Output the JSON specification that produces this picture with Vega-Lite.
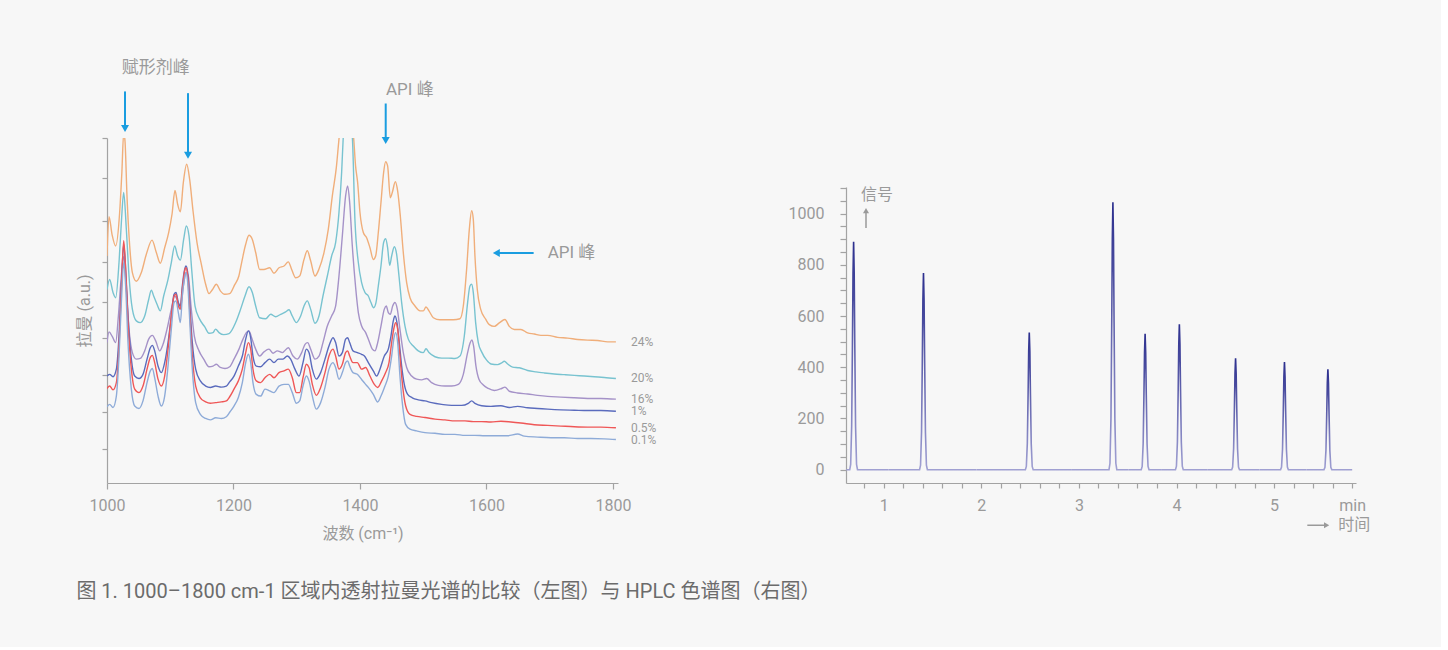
{
  "$schema": "https://vega.github.io/schema/vega-lite/v6.json",
  "background": "#f7f7f7",
  "padding": {"left": 76, "top": 58, "right": 70, "bottom": 45},
  "bounds": "flush",
  "spacing": 228,
  "title": {"text": "图 1. 1000–1800 cm-1 区域内透射拉曼光谱的比较（左图）与 HPLC 色谱图（右图）", "orient": "bottom", "anchor": "start", "offset": 41, "fontSize": 20, "fontWeight": "normal", "color": "#6b6b6b", "font": "Roboto, 'Noto Sans CJK SC', sans-serif"},
  "config": {
    "view": {"stroke": null},
    "axis": {"grid": false, "domainColor": "#a3a3a3", "tickColor": "#a3a3a3", "labelColor": "#9a9a9a", "titleColor": "#9a9a9a", "labelFont": "Roboto", "labelFontSize": 16, "titleFont": "Roboto, 'Noto Sans CJK SC', sans-serif", "titleFontSize": 16, "titleFontWeight": "normal", "domainWidth": 1.2, "tickWidth": 1.2},
    "text": {"font": "Roboto, 'Noto Sans CJK SC', sans-serif", "color": "#9a9a9a"}
  },
  "datasets": {
    "raman": [
      {"s":"24%","x":1000,"y":65.8},{"s":"24%","x":1003.2,"y":77.2},{"s":"24%","x":1008,"y":72},{"s":"24%","x":1013.7,"y":68.7},{"s":"24%","x":1020,"y":78.4},{"s":"24%","x":1023.5,"y":90},{"s":"24%","x":1026.4,"y":101.5},{"s":"24%","x":1028.5,"y":99},{"s":"24%","x":1031.6,"y":83.2},{"s":"24%","x":1035.9,"y":68.7},{"s":"24%","x":1040.1,"y":61},{"s":"24%","x":1046.4,"y":58.5},{"s":"24%","x":1054.3,"y":61},{"s":"24%","x":1062.2,"y":66.3},{"s":"24%","x":1071.2,"y":70.4},{"s":"24%","x":1078,"y":66.8},{"s":"24%","x":1084.3,"y":63.7},{"s":"24%","x":1091.2,"y":68.2},{"s":"24%","x":1097.5,"y":72.6},{"s":"24%","x":1102.8,"y":77.9},{"s":"24%","x":1107.5,"y":84.8},{"s":"24%","x":1111.7,"y":80.8},{"s":"24%","x":1116,"y":78.6},{"s":"24%","x":1120.7,"y":87.1},{"s":"24%","x":1126,"y":92.4},{"s":"24%","x":1130.7,"y":88},{"s":"24%","x":1136,"y":78.9},{"s":"24%","x":1142.3,"y":69.7},{"s":"24%","x":1149.2,"y":63.4},{"s":"24%","x":1156,"y":57.6},{"s":"24%","x":1161.3,"y":54.9},{"s":"24%","x":1166.6,"y":56},{"s":"24%","x":1172.9,"y":57.6},{"s":"24%","x":1179.2,"y":55.7},{"s":"24%","x":1186.1,"y":54.7},{"s":"24%","x":1194,"y":54.9},{"s":"24%","x":1202,"y":57.5},{"s":"24%","x":1208.5,"y":60},{"s":"24%","x":1212.9,"y":63.9},{"s":"24%","x":1219.3,"y":69.2},{"s":"24%","x":1224.5,"y":71.8},{"s":"24%","x":1229.8,"y":70.6},{"s":"24%","x":1235.1,"y":66.8},{"s":"24%","x":1241.4,"y":61.9},{"s":"24%","x":1248.2,"y":61.9},{"s":"24%","x":1257.2,"y":62.4},{"s":"24%","x":1264,"y":60.8},{"s":"24%","x":1272,"y":62.4},{"s":"24%","x":1279.9,"y":62.9},{"s":"24%","x":1286.7,"y":64.1},{"s":"24%","x":1292,"y":61.9},{"s":"24%","x":1298.3,"y":59.5},{"s":"24%","x":1304.6,"y":60},{"s":"24%","x":1311.5,"y":64.8},{"s":"24%","x":1316.7,"y":67.3},{"s":"24%","x":1322,"y":64.4},{"s":"24%","x":1328.9,"y":60},{"s":"24%","x":1335.2,"y":62},{"s":"24%","x":1343.1,"y":66.8},{"s":"24%","x":1349.9,"y":73.5},{"s":"24%","x":1356.3,"y":83.2},{"s":"24%","x":1362.6,"y":91.4},{"s":"24%","x":1367,"y":100},{"s":"24%","x":1372,"y":108},{"s":"24%","x":1378,"y":113},{"s":"24%","x":1384,"y":108},{"s":"24%","x":1390,"y":100},{"s":"24%","x":1393,"y":92},{"s":"24%","x":1396.3,"y":87.1},{"s":"24%","x":1400,"y":78.4},{"s":"24%","x":1405.3,"y":72.6},{"s":"24%","x":1410.5,"y":71.1},{"s":"24%","x":1415.8,"y":68.2},{"s":"24%","x":1421.1,"y":64.8},{"s":"24%","x":1424.8,"y":65.8},{"s":"24%","x":1429,"y":72.6},{"s":"24%","x":1433.2,"y":81.3},{"s":"24%","x":1437.4,"y":90},{"s":"24%","x":1440.6,"y":93.1},{"s":"24%","x":1443.7,"y":91.9},{"s":"24%","x":1448,"y":82.7},{"s":"24%","x":1451.1,"y":84.2},{"s":"24%","x":1455.9,"y":87.3},{"s":"24%","x":1459.6,"y":84.6},{"s":"24%","x":1463.8,"y":77.4},{"s":"24%","x":1468.5,"y":66.8},{"s":"24%","x":1473.8,"y":58.1},{"s":"24%","x":1479.1,"y":53.7},{"s":"24%","x":1487,"y":51.3},{"s":"24%","x":1494.9,"y":49.9},{"s":"24%","x":1500.1,"y":49.9},{"s":"24%","x":1504.4,"y":51},{"s":"24%","x":1509.1,"y":49.9},{"s":"24%","x":1516,"y":47.9},{"s":"24%","x":1526.5,"y":47.3},{"s":"24%","x":1537,"y":47.3},{"s":"24%","x":1547.6,"y":47.3},{"s":"24%","x":1558.1,"y":47.6},{"s":"24%","x":1563.4,"y":51.3},{"s":"24%","x":1568.6,"y":61.9},{"s":"24%","x":1572.9,"y":73.5},{"s":"24%","x":1576.6,"y":78.9},{"s":"24%","x":1579.2,"y":76.4},{"s":"24%","x":1581.8,"y":65.8},{"s":"24%","x":1585.5,"y":56.1},{"s":"24%","x":1590.8,"y":50.4},{"s":"24%","x":1598.7,"y":47.5},{"s":"24%","x":1604.5,"y":45.9},{"s":"24%","x":1612.4,"y":45.4},{"s":"24%","x":1620.3,"y":46.4},{"s":"24%","x":1629.2,"y":47.4},{"s":"24%","x":1636.1,"y":45.4},{"s":"24%","x":1644,"y":44.5},{"s":"24%","x":1654.5,"y":44.5},{"s":"24%","x":1665.1,"y":43.5},{"s":"24%","x":1675.6,"y":43.2},{"s":"24%","x":1686.2,"y":42.8},{"s":"24%","x":1696.7,"y":42.8},{"s":"24%","x":1712.5,"y":42.2},{"s":"24%","x":1728.3,"y":42},{"s":"24%","x":1744.1,"y":41.6},{"s":"24%","x":1759.9,"y":41.4},{"s":"24%","x":1775.8,"y":41.3},{"s":"24%","x":1791.6,"y":40.9},{"s":"24%","x":1804.7,"y":40.9},
      {"s":"20%","x":1000,"y":56.1},{"s":"20%","x":1004.2,"y":59},{"s":"20%","x":1009.5,"y":55.2},{"s":"20%","x":1013.7,"y":53.7},{"s":"20%","x":1019,"y":63.9},{"s":"20%","x":1022.7,"y":75.5},{"s":"20%","x":1026.4,"y":84.2},{"s":"20%","x":1030.6,"y":73.5},{"s":"20%","x":1034.8,"y":60},{"s":"20%","x":1040.1,"y":50.4},{"s":"20%","x":1046.4,"y":47},{"s":"20%","x":1052.7,"y":46.5},{"s":"20%","x":1059.6,"y":48.4},{"s":"20%","x":1065.9,"y":53.2},{"s":"20%","x":1070.1,"y":55.9},{"s":"20%","x":1073.8,"y":54.2},{"s":"20%","x":1079.1,"y":51.8},{"s":"20%","x":1084.3,"y":49.9},{"s":"20%","x":1089.6,"y":54.2},{"s":"20%","x":1096.5,"y":59},{"s":"20%","x":1101.7,"y":63.9},{"s":"20%","x":1107,"y":68.7},{"s":"20%","x":1111.7,"y":65.8},{"s":"20%","x":1116,"y":64.6},{"s":"20%","x":1121.2,"y":70.6},{"s":"20%","x":1125.5,"y":74.5},{"s":"20%","x":1129.7,"y":71.6},{"s":"20%","x":1133.9,"y":61.9},{"s":"20%","x":1139.2,"y":51.3},{"s":"20%","x":1146.5,"y":47.5},{"s":"20%","x":1154.4,"y":45.3},{"s":"20%","x":1161.3,"y":43.4},{"s":"20%","x":1167.6,"y":43.6},{"s":"20%","x":1171.8,"y":44.6},{"s":"20%","x":1177.1,"y":43.6},{"s":"20%","x":1184.5,"y":43},{"s":"20%","x":1193,"y":43.3},{"s":"20%","x":1203.4,"y":46.5},{"s":"20%","x":1211.3,"y":50.4},{"s":"20%","x":1218.2,"y":54.2},{"s":"20%","x":1224.5,"y":56.9},{"s":"20%","x":1229.8,"y":55.2},{"s":"20%","x":1235.1,"y":51.3},{"s":"20%","x":1241.4,"y":47.9},{"s":"20%","x":1250.9,"y":47.6},{"s":"20%","x":1258.8,"y":48.9},{"s":"20%","x":1266.7,"y":48.2},{"s":"20%","x":1274.6,"y":48.9},{"s":"20%","x":1282.5,"y":49.6},{"s":"20%","x":1287.8,"y":50.2},{"s":"20%","x":1293,"y":48.4},{"s":"20%","x":1299.4,"y":46.5},{"s":"20%","x":1306.2,"y":48.4},{"s":"20%","x":1311.5,"y":51.3},{"s":"20%","x":1316.7,"y":52.8},{"s":"20%","x":1322,"y":50.4},{"s":"20%","x":1328.9,"y":46.3},{"s":"20%","x":1335.2,"y":48.4},{"s":"20%","x":1341.5,"y":54.2},{"s":"20%","x":1348.4,"y":60},{"s":"20%","x":1355.2,"y":65.8},{"s":"20%","x":1361.5,"y":69.7},{"s":"20%","x":1366.8,"y":78.4},{"s":"20%","x":1371,"y":90},{"s":"20%","x":1373.5,"y":100},{"s":"20%","x":1378,"y":109},{"s":"20%","x":1383,"y":107},{"s":"20%","x":1388,"y":100},{"s":"20%","x":1392.1,"y":76},{"s":"20%","x":1397.4,"y":63.9},{"s":"20%","x":1402.6,"y":58.1},{"s":"20%","x":1407.9,"y":55.2},{"s":"20%","x":1413.2,"y":54.2},{"s":"20%","x":1417.4,"y":52.3},{"s":"20%","x":1421.6,"y":50.8},{"s":"20%","x":1425.3,"y":52.3},{"s":"20%","x":1429,"y":57.1},{"s":"20%","x":1433.2,"y":62.9},{"s":"20%","x":1437.4,"y":69.7},{"s":"20%","x":1440.6,"y":70.8},{"s":"20%","x":1443.7,"y":68.2},{"s":"20%","x":1446.9,"y":63.1},{"s":"20%","x":1450.1,"y":65.8},{"s":"20%","x":1454.3,"y":68.5},{"s":"20%","x":1458,"y":66.3},{"s":"20%","x":1461.7,"y":60},{"s":"20%","x":1465.9,"y":52.3},{"s":"20%","x":1471.2,"y":45.5},{"s":"20%","x":1476.4,"y":41.7},{"s":"20%","x":1484.3,"y":39.7},{"s":"20%","x":1492.2,"y":38.3},{"s":"20%","x":1500.1,"y":37.8},{"s":"20%","x":1504.4,"y":38.9},{"s":"20%","x":1509.1,"y":37.8},{"s":"20%","x":1518.6,"y":36.6},{"s":"20%","x":1529.1,"y":36.2},{"s":"20%","x":1539.7,"y":36.2},{"s":"20%","x":1550.2,"y":36.1},{"s":"20%","x":1558.1,"y":36.8},{"s":"20%","x":1565,"y":42.6},{"s":"20%","x":1570.2,"y":52.3},{"s":"20%","x":1573.9,"y":57.1},{"s":"20%","x":1576.6,"y":57.6},{"s":"20%","x":1579.2,"y":55.2},{"s":"20%","x":1582.9,"y":46.5},{"s":"20%","x":1587.1,"y":40.7},{"s":"20%","x":1592.4,"y":38},{"s":"20%","x":1600.3,"y":35.6},{"s":"20%","x":1607.1,"y":34.5},{"s":"20%","x":1617.6,"y":34.3},{"s":"20%","x":1623.9,"y":34.8},{"s":"20%","x":1628.2,"y":35.3},{"s":"20%","x":1633.5,"y":34.5},{"s":"20%","x":1641.4,"y":33.6},{"s":"20%","x":1651.9,"y":33.4},{"s":"20%","x":1665.1,"y":32.6},{"s":"20%","x":1678.3,"y":32.2},{"s":"20%","x":1691.4,"y":31.9},{"s":"20%","x":1707.2,"y":31.6},{"s":"20%","x":1723.1,"y":31.4},{"s":"20%","x":1738.9,"y":31.2},{"s":"20%","x":1754.7,"y":31},{"s":"20%","x":1770.5,"y":30.8},{"s":"20%","x":1786.3,"y":30.6},{"s":"20%","x":1804.7,"y":30.3},
      {"s":"16%","x":1000,"y":40.7},{"s":"16%","x":1003.2,"y":43.8},{"s":"16%","x":1008.5,"y":42.4},{"s":"16%","x":1013.7,"y":40.7},{"s":"16%","x":1018,"y":48.4},{"s":"16%","x":1022.2,"y":59},{"s":"16%","x":1026.4,"y":65.6},{"s":"16%","x":1030.6,"y":56.1},{"s":"16%","x":1034.8,"y":44.6},{"s":"16%","x":1040.1,"y":37.8},{"s":"16%","x":1046.4,"y":35.9},{"s":"16%","x":1052.7,"y":36.1},{"s":"16%","x":1059.6,"y":38.3},{"s":"16%","x":1065.9,"y":41.7},{"s":"16%","x":1071.7,"y":42.8},{"s":"16%","x":1077,"y":41.2},{"s":"16%","x":1083.3,"y":38.3},{"s":"16%","x":1088.6,"y":40.2},{"s":"16%","x":1094.9,"y":44.6},{"s":"16%","x":1101.7,"y":50.4},{"s":"16%","x":1107,"y":54.2},{"s":"16%","x":1111.7,"y":52.8},{"s":"16%","x":1116,"y":50.4},{"s":"16%","x":1120.7,"y":57.1},{"s":"16%","x":1124.9,"y":61},{"s":"16%","x":1128.6,"y":60},{"s":"16%","x":1132.8,"y":51.3},{"s":"16%","x":1138.1,"y":42.6},{"s":"16%","x":1145.5,"y":38.3},{"s":"16%","x":1152.9,"y":35.9},{"s":"16%","x":1161.3,"y":33.7},{"s":"16%","x":1167.6,"y":33.9},{"s":"16%","x":1172.9,"y":34.4},{"s":"16%","x":1179.2,"y":33.5},{"s":"16%","x":1186.6,"y":33.2},{"s":"16%","x":1194,"y":33.7},{"s":"16%","x":1200.8,"y":35.9},{"s":"16%","x":1208.7,"y":38.8},{"s":"16%","x":1215,"y":41.7},{"s":"16%","x":1220.3,"y":43.6},{"s":"16%","x":1224.5,"y":44.1},{"s":"16%","x":1228.7,"y":42.1},{"s":"16%","x":1235.1,"y":38.8},{"s":"16%","x":1241.4,"y":36.8},{"s":"16%","x":1248.2,"y":38},{"s":"16%","x":1256.1,"y":38.8},{"s":"16%","x":1262.5,"y":37.6},{"s":"16%","x":1269.3,"y":38.3},{"s":"16%","x":1277.2,"y":37.8},{"s":"16%","x":1286.7,"y":39.2},{"s":"16%","x":1294.1,"y":36.8},{"s":"16%","x":1300.9,"y":35.9},{"s":"16%","x":1307.8,"y":37.8},{"s":"16%","x":1313.1,"y":40.2},{"s":"16%","x":1317.3,"y":40.7},{"s":"16%","x":1322,"y":38.8},{"s":"16%","x":1328.9,"y":35.9},{"s":"16%","x":1335.2,"y":36.8},{"s":"16%","x":1341.5,"y":40.7},{"s":"16%","x":1348.4,"y":45.5},{"s":"16%","x":1355.2,"y":48.4},{"s":"16%","x":1361.5,"y":51.3},{"s":"16%","x":1366.8,"y":60},{"s":"16%","x":1372.1,"y":71.6},{"s":"16%","x":1377.3,"y":83.2},{"s":"16%","x":1380.5,"y":86.1},{"s":"16%","x":1383.7,"y":81.3},{"s":"16%","x":1387.9,"y":68.7},{"s":"16%","x":1393.2,"y":56.6},{"s":"16%","x":1397.4,"y":49.4},{"s":"16%","x":1402.6,"y":45.5},{"s":"16%","x":1409,"y":43.6},{"s":"16%","x":1414.2,"y":41.2},{"s":"16%","x":1419.5,"y":38.8},{"s":"16%","x":1423.7,"y":38.3},{"s":"16%","x":1428,"y":40.7},{"s":"16%","x":1433.2,"y":45.5},{"s":"16%","x":1438.5,"y":50.4},{"s":"16%","x":1441.6,"y":51.3},{"s":"16%","x":1444.8,"y":49.4},{"s":"16%","x":1448,"y":48.9},{"s":"16%","x":1451.7,"y":51.3},{"s":"16%","x":1455.3,"y":52.3},{"s":"16%","x":1459,"y":50.4},{"s":"16%","x":1463.2,"y":44.6},{"s":"16%","x":1468.5,"y":37.8},{"s":"16%","x":1473.8,"y":33.5},{"s":"16%","x":1481.7,"y":31},{"s":"16%","x":1489.6,"y":30.1},{"s":"16%","x":1497.5,"y":29.9},{"s":"16%","x":1505.4,"y":30.3},{"s":"16%","x":1513.3,"y":29.1},{"s":"16%","x":1523.9,"y":28.3},{"s":"16%","x":1534.4,"y":28.1},{"s":"16%","x":1544.9,"y":28.1},{"s":"16%","x":1555.5,"y":28.6},{"s":"16%","x":1563.4,"y":31.5},{"s":"16%","x":1570.2,"y":37.8},{"s":"16%","x":1574.4,"y":40.7},{"s":"16%","x":1577.1,"y":41.5},{"s":"16%","x":1579.7,"y":39.7},{"s":"16%","x":1583.4,"y":33.9},{"s":"16%","x":1588.1,"y":30.1},{"s":"16%","x":1595,"y":28.4},{"s":"16%","x":1602.9,"y":27.4},{"s":"16%","x":1612.4,"y":26.8},{"s":"16%","x":1624,"y":27.4},{"s":"16%","x":1629.2,"y":27.8},{"s":"16%","x":1636.1,"y":26.6},{"s":"16%","x":1649.3,"y":26.1},{"s":"16%","x":1665.1,"y":25.8},{"s":"16%","x":1680.9,"y":25.4},{"s":"16%","x":1696.7,"y":25.1},{"s":"16%","x":1717.8,"y":24.9},{"s":"16%","x":1738.9,"y":24.7},{"s":"16%","x":1760,"y":24.5},{"s":"16%","x":1781,"y":24.5},{"s":"16%","x":1804.7,"y":24.3},
      {"s":"1%","x":1000,"y":31},{"s":"1%","x":1004.2,"y":31.5},{"s":"1%","x":1009.5,"y":30.8},{"s":"1%","x":1014.8,"y":33},{"s":"1%","x":1019,"y":42.6},{"s":"1%","x":1022.7,"y":57.1},{"s":"1%","x":1026.4,"y":69.2},{"s":"1%","x":1029.5,"y":61.9},{"s":"1%","x":1033.2,"y":48.4},{"s":"1%","x":1038.5,"y":35.9},{"s":"1%","x":1043.8,"y":31},{"s":"1%","x":1050.6,"y":30.3},{"s":"1%","x":1056.9,"y":31.5},{"s":"1%","x":1063.3,"y":35.9},{"s":"1%","x":1068.5,"y":39.2},{"s":"1%","x":1071.7,"y":39.9},{"s":"1%","x":1075.4,"y":38.3},{"s":"1%","x":1080.7,"y":33.9},{"s":"1%","x":1085.9,"y":32},{"s":"1%","x":1091.2,"y":34.9},{"s":"1%","x":1096.5,"y":40.7},{"s":"1%","x":1101.7,"y":48.4},{"s":"1%","x":1106,"y":54.7},{"s":"1%","x":1109.1,"y":55.2},{"s":"1%","x":1112.8,"y":52.3},{"s":"1%","x":1116,"y":51.3},{"s":"1%","x":1119.1,"y":57.1},{"s":"1%","x":1122.8,"y":61.9},{"s":"1%","x":1124.9,"y":62.9},{"s":"1%","x":1127.6,"y":61},{"s":"1%","x":1130.7,"y":52.3},{"s":"1%","x":1134.9,"y":40.7},{"s":"1%","x":1140.2,"y":33},{"s":"1%","x":1147.6,"y":29.6},{"s":"1%","x":1156,"y":28.1},{"s":"1%","x":1163.4,"y":27.7},{"s":"1%","x":1171.8,"y":28.1},{"s":"1%","x":1180.8,"y":27.8},{"s":"1%","x":1188.7,"y":28.1},{"s":"1%","x":1194,"y":29.3},{"s":"1%","x":1200.8,"y":31},{"s":"1%","x":1207.7,"y":33.9},{"s":"1%","x":1214,"y":36.8},{"s":"1%","x":1219.3,"y":41.7},{"s":"1%","x":1223.5,"y":44.1},{"s":"1%","x":1227.2,"y":42.1},{"s":"1%","x":1230.8,"y":36.8},{"s":"1%","x":1236.1,"y":33.9},{"s":"1%","x":1243,"y":33.7},{"s":"1%","x":1249.8,"y":34.9},{"s":"1%","x":1257.2,"y":35.9},{"s":"1%","x":1264,"y":34.9},{"s":"1%","x":1270.9,"y":35.9},{"s":"1%","x":1278.3,"y":35.9},{"s":"1%","x":1285.1,"y":36.8},{"s":"1%","x":1290.4,"y":35.9},{"s":"1%","x":1297.2,"y":33},{"s":"1%","x":1303.6,"y":31},{"s":"1%","x":1309.9,"y":34.9},{"s":"1%","x":1315.2,"y":38.8},{"s":"1%","x":1319.4,"y":37.8},{"s":"1%","x":1324.7,"y":33},{"s":"1%","x":1331,"y":30.1},{"s":"1%","x":1337.8,"y":32},{"s":"1%","x":1344.7,"y":35.9},{"s":"1%","x":1351,"y":39.7},{"s":"1%","x":1357.3,"y":42.1},{"s":"1%","x":1361.5,"y":40.7},{"s":"1%","x":1366.8,"y":36.8},{"s":"1%","x":1372.1,"y":37.8},{"s":"1%","x":1377.3,"y":41.7},{"s":"1%","x":1380.5,"y":42.1},{"s":"1%","x":1383.7,"y":40.7},{"s":"1%","x":1389,"y":38.3},{"s":"1%","x":1395.8,"y":37.8},{"s":"1%","x":1402.6,"y":37.3},{"s":"1%","x":1408,"y":36.6},{"s":"1%","x":1413.2,"y":34.9},{"s":"1%","x":1421.1,"y":32.5},{"s":"1%","x":1426.4,"y":31},{"s":"1%","x":1431.6,"y":33},{"s":"1%","x":1438.5,"y":36.8},{"s":"1%","x":1444.8,"y":38.8},{"s":"1%","x":1449,"y":42.6},{"s":"1%","x":1452.7,"y":47},{"s":"1%","x":1455.3,"y":48.4},{"s":"1%","x":1458.5,"y":46.5},{"s":"1%","x":1462.2,"y":40.7},{"s":"1%","x":1465.9,"y":33.9},{"s":"1%","x":1470.1,"y":28.6},{"s":"1%","x":1475.4,"y":25.7},{"s":"1%","x":1482.7,"y":24.7},{"s":"1%","x":1492.2,"y":24.1},{"s":"1%","x":1502.8,"y":23.8},{"s":"1%","x":1513.3,"y":23.3},{"s":"1%","x":1529.1,"y":22.8},{"s":"1%","x":1544.9,"y":22.5},{"s":"1%","x":1560.7,"y":22.5},{"s":"1%","x":1571.3,"y":23.1},{"s":"1%","x":1576.6,"y":23.8},{"s":"1%","x":1581.8,"y":23.1},{"s":"1%","x":1592.4,"y":22.4},{"s":"1%","x":1607.1,"y":22.2},{"s":"1%","x":1622.9,"y":22.4},{"s":"1%","x":1636.1,"y":21.9},{"s":"1%","x":1649.3,"y":22.2},{"s":"1%","x":1665.1,"y":21.8},{"s":"1%","x":1680.9,"y":21.6},{"s":"1%","x":1696.7,"y":21.4},{"s":"1%","x":1717.8,"y":21.2},{"s":"1%","x":1738.9,"y":21.1},{"s":"1%","x":1760,"y":21},{"s":"1%","x":1781,"y":21},{"s":"1%","x":1804.7,"y":20.8},
      {"s":"0.5%","x":1000,"y":27.4},{"s":"0.5%","x":1004.2,"y":28.1},{"s":"0.5%","x":1009.5,"y":27},{"s":"0.5%","x":1014.8,"y":29.1},{"s":"0.5%","x":1019,"y":39.7},{"s":"0.5%","x":1022.7,"y":56.1},{"s":"0.5%","x":1026.4,"y":70.2},{"s":"0.5%","x":1029.5,"y":61.9},{"s":"0.5%","x":1033.2,"y":46.5},{"s":"0.5%","x":1038.5,"y":33},{"s":"0.5%","x":1043.8,"y":27.2},{"s":"0.5%","x":1050.6,"y":26.2},{"s":"0.5%","x":1056.9,"y":28.1},{"s":"0.5%","x":1063.3,"y":33},{"s":"0.5%","x":1068.5,"y":36.4},{"s":"0.5%","x":1071.7,"y":37},{"s":"0.5%","x":1075.4,"y":34.9},{"s":"0.5%","x":1080.7,"y":30.1},{"s":"0.5%","x":1085.9,"y":28.1},{"s":"0.5%","x":1091.2,"y":31},{"s":"0.5%","x":1096.5,"y":38.8},{"s":"0.5%","x":1101.7,"y":48.4},{"s":"0.5%","x":1106,"y":54.2},{"s":"0.5%","x":1109.1,"y":54.7},{"s":"0.5%","x":1112.8,"y":51.3},{"s":"0.5%","x":1116,"y":50.4},{"s":"0.5%","x":1119.1,"y":56.1},{"s":"0.5%","x":1122.8,"y":61.5},{"s":"0.5%","x":1124.9,"y":62.4},{"s":"0.5%","x":1127.6,"y":60},{"s":"0.5%","x":1130.7,"y":50.4},{"s":"0.5%","x":1134.9,"y":36.8},{"s":"0.5%","x":1140.2,"y":28.1},{"s":"0.5%","x":1147.6,"y":24.7},{"s":"0.5%","x":1156,"y":23.5},{"s":"0.5%","x":1163.4,"y":23.1},{"s":"0.5%","x":1171.8,"y":23.3},{"s":"0.5%","x":1180.8,"y":23.5},{"s":"0.5%","x":1188.7,"y":23.8},{"s":"0.5%","x":1194,"y":25},{"s":"0.5%","x":1200.8,"y":27.2},{"s":"0.5%","x":1207.7,"y":29.6},{"s":"0.5%","x":1214,"y":33},{"s":"0.5%","x":1219.3,"y":37.8},{"s":"0.5%","x":1223.5,"y":40.7},{"s":"0.5%","x":1227.2,"y":38.8},{"s":"0.5%","x":1230.8,"y":33},{"s":"0.5%","x":1236.1,"y":29.6},{"s":"0.5%","x":1243,"y":29.1},{"s":"0.5%","x":1249.8,"y":30.5},{"s":"0.5%","x":1257.2,"y":31.5},{"s":"0.5%","x":1264,"y":30.5},{"s":"0.5%","x":1271.9,"y":32},{"s":"0.5%","x":1279.9,"y":32.5},{"s":"0.5%","x":1286.7,"y":33},{"s":"0.5%","x":1293,"y":30.5},{"s":"0.5%","x":1299.4,"y":26.2},{"s":"0.5%","x":1304.6,"y":26.2},{"s":"0.5%","x":1309.9,"y":30.5},{"s":"0.5%","x":1315.2,"y":34.4},{"s":"0.5%","x":1319.4,"y":33.5},{"s":"0.5%","x":1324.7,"y":28.6},{"s":"0.5%","x":1331,"y":25.4},{"s":"0.5%","x":1337.8,"y":27.7},{"s":"0.5%","x":1344.7,"y":32},{"s":"0.5%","x":1351,"y":36.8},{"s":"0.5%","x":1357.3,"y":38.8},{"s":"0.5%","x":1361.5,"y":36.8},{"s":"0.5%","x":1366.8,"y":33},{"s":"0.5%","x":1372.1,"y":34.4},{"s":"0.5%","x":1377.3,"y":37.8},{"s":"0.5%","x":1380.5,"y":38.3},{"s":"0.5%","x":1383.7,"y":36.8},{"s":"0.5%","x":1389,"y":34.9},{"s":"0.5%","x":1395.8,"y":34.9},{"s":"0.5%","x":1402.6,"y":33},{"s":"0.5%","x":1409,"y":33.5},{"s":"0.5%","x":1415.8,"y":31},{"s":"0.5%","x":1422.7,"y":28.6},{"s":"0.5%","x":1428,"y":27.7},{"s":"0.5%","x":1434.3,"y":29.6},{"s":"0.5%","x":1440.6,"y":32},{"s":"0.5%","x":1445.9,"y":34.9},{"s":"0.5%","x":1450.1,"y":40.7},{"s":"0.5%","x":1453.8,"y":45},{"s":"0.5%","x":1456.4,"y":46.5},{"s":"0.5%","x":1459.6,"y":44.6},{"s":"0.5%","x":1463.2,"y":36.8},{"s":"0.5%","x":1467.5,"y":28.1},{"s":"0.5%","x":1472.2,"y":22.4},{"s":"0.5%","x":1479.1,"y":19.9},{"s":"0.5%","x":1489.6,"y":19.3},{"s":"0.5%","x":1502.8,"y":19},{"s":"0.5%","x":1518.6,"y":18.5},{"s":"0.5%","x":1534.4,"y":18.3},{"s":"0.5%","x":1550.2,"y":18},{"s":"0.5%","x":1566,"y":18},{"s":"0.5%","x":1579.2,"y":17.8},{"s":"0.5%","x":1592.4,"y":17.8},{"s":"0.5%","x":1607.1,"y":17.7},{"s":"0.5%","x":1622.9,"y":17.9},{"s":"0.5%","x":1638.7,"y":17.7},{"s":"0.5%","x":1654.5,"y":17.4},{"s":"0.5%","x":1675.6,"y":16.9},{"s":"0.5%","x":1696.7,"y":16.7},{"s":"0.5%","x":1717.8,"y":16.5},{"s":"0.5%","x":1738.9,"y":16.3},{"s":"0.5%","x":1760,"y":16.2},{"s":"0.5%","x":1781,"y":16.2},{"s":"0.5%","x":1804.7,"y":16},
      {"s":"0.1%","x":1000,"y":22.1},{"s":"0.1%","x":1004.2,"y":22.8},{"s":"0.1%","x":1009.5,"y":21.9},{"s":"0.1%","x":1014.8,"y":25.2},{"s":"0.1%","x":1019,"y":36.8},{"s":"0.1%","x":1022.7,"y":52.3},{"s":"0.1%","x":1026.4,"y":63.9},{"s":"0.1%","x":1029.5,"y":57.1},{"s":"0.1%","x":1033.2,"y":40.7},{"s":"0.1%","x":1038.5,"y":27.2},{"s":"0.1%","x":1043.8,"y":22.3},{"s":"0.1%","x":1050.6,"y":21.6},{"s":"0.1%","x":1056.9,"y":23.8},{"s":"0.1%","x":1063.3,"y":29.1},{"s":"0.1%","x":1068.5,"y":32.5},{"s":"0.1%","x":1071.7,"y":33.2},{"s":"0.1%","x":1075.4,"y":30.5},{"s":"0.1%","x":1080.7,"y":25.2},{"s":"0.1%","x":1085.9,"y":22.3},{"s":"0.1%","x":1091.2,"y":25.2},{"s":"0.1%","x":1096.5,"y":33.9},{"s":"0.1%","x":1101.7,"y":44.6},{"s":"0.1%","x":1106,"y":52.3},{"s":"0.1%","x":1109.1,"y":52.8},{"s":"0.1%","x":1112.8,"y":49.4},{"s":"0.1%","x":1116,"y":46.5},{"s":"0.1%","x":1119.1,"y":54.2},{"s":"0.1%","x":1122.8,"y":59.5},{"s":"0.1%","x":1124.9,"y":61},{"s":"0.1%","x":1127.6,"y":58.1},{"s":"0.1%","x":1130.7,"y":47.5},{"s":"0.1%","x":1134.9,"y":33},{"s":"0.1%","x":1140.2,"y":23.3},{"s":"0.1%","x":1147.6,"y":19.9},{"s":"0.1%","x":1156,"y":18.7},{"s":"0.1%","x":1163.4,"y":18.3},{"s":"0.1%","x":1171.8,"y":18.9},{"s":"0.1%","x":1180.8,"y":18.7},{"s":"0.1%","x":1188.7,"y":19.2},{"s":"0.1%","x":1194,"y":20.5},{"s":"0.1%","x":1200.8,"y":22.3},{"s":"0.1%","x":1207.7,"y":24.8},{"s":"0.1%","x":1214,"y":29.1},{"s":"0.1%","x":1219.3,"y":34.9},{"s":"0.1%","x":1223.5,"y":37.3},{"s":"0.1%","x":1227.2,"y":34.9},{"s":"0.1%","x":1230.8,"y":29.1},{"s":"0.1%","x":1236.1,"y":25.7},{"s":"0.1%","x":1243,"y":25.2},{"s":"0.1%","x":1249.8,"y":27.2},{"s":"0.1%","x":1257.2,"y":26.7},{"s":"0.1%","x":1264,"y":26.2},{"s":"0.1%","x":1271.9,"y":28.1},{"s":"0.1%","x":1279.9,"y":28.6},{"s":"0.1%","x":1286.7,"y":28.6},{"s":"0.1%","x":1293,"y":26.2},{"s":"0.1%","x":1299.4,"y":23.1},{"s":"0.1%","x":1304.6,"y":23.8},{"s":"0.1%","x":1309.9,"y":28.1},{"s":"0.1%","x":1315.2,"y":31},{"s":"0.1%","x":1319.4,"y":29.6},{"s":"0.1%","x":1324.7,"y":25.2},{"s":"0.1%","x":1331,"y":21.4},{"s":"0.1%","x":1337.8,"y":23.3},{"s":"0.1%","x":1344.7,"y":27.7},{"s":"0.1%","x":1351,"y":33},{"s":"0.1%","x":1357.3,"y":34.9},{"s":"0.1%","x":1361.5,"y":33.5},{"s":"0.1%","x":1366.8,"y":30.1},{"s":"0.1%","x":1372.1,"y":32},{"s":"0.1%","x":1377.3,"y":34.9},{"s":"0.1%","x":1380.5,"y":35.4},{"s":"0.1%","x":1383.7,"y":33.9},{"s":"0.1%","x":1389,"y":32},{"s":"0.1%","x":1395.8,"y":31.5},{"s":"0.1%","x":1402.6,"y":30},{"s":"0.1%","x":1408,"y":28.8},{"s":"0.1%","x":1413.2,"y":27.7},{"s":"0.1%","x":1421.1,"y":25.7},{"s":"0.1%","x":1428,"y":23.5},{"s":"0.1%","x":1433.2,"y":25.2},{"s":"0.1%","x":1439.5,"y":28.1},{"s":"0.1%","x":1444.8,"y":31},{"s":"0.1%","x":1450.1,"y":36.8},{"s":"0.1%","x":1453.8,"y":42.1},{"s":"0.1%","x":1456.4,"y":43.6},{"s":"0.1%","x":1459.6,"y":40.7},{"s":"0.1%","x":1463.2,"y":31},{"s":"0.1%","x":1467.5,"y":22.3},{"s":"0.1%","x":1472.2,"y":17},{"s":"0.1%","x":1479.1,"y":15.6},{"s":"0.1%","x":1489.6,"y":15.1},{"s":"0.1%","x":1502.8,"y":14.6},{"s":"0.1%","x":1518.6,"y":14.4},{"s":"0.1%","x":1534.4,"y":14.1},{"s":"0.1%","x":1550.2,"y":14.1},{"s":"0.1%","x":1566,"y":13.8},{"s":"0.1%","x":1581.8,"y":13.8},{"s":"0.1%","x":1597.6,"y":13.7},{"s":"0.1%","x":1612.4,"y":13.7},{"s":"0.1%","x":1633.5,"y":13.7},{"s":"0.1%","x":1649.3,"y":14.2},{"s":"0.1%","x":1659.8,"y":13.6},{"s":"0.1%","x":1680.9,"y":13.3},{"s":"0.1%","x":1702,"y":13.1},{"s":"0.1%","x":1723.1,"y":13.1},{"s":"0.1%","x":1744.1,"y":12.9},{"s":"0.1%","x":1765.2,"y":12.9},{"s":"0.1%","x":1786.3,"y":12.8},{"s":"0.1%","x":1804.7,"y":12.6}
    ],
    "blueRules": [
      {"x":1028.5,"y":113.5,"x2":1028.5,"y2":102.75},
      {"x":1128.1,"y":113,"x2":1128.1,"y2":95},
      {"x":1440.7,"y":110,"x2":1440.7,"y2":99.3},
      {"x":1674.6,"y":66.7,"x2":1615.6,"y2":66.7}
    ],
    "blueHeads": [
      {"x":1028.5,"y":102.75,"head":"down"},
      {"x":1128.1,"y":95,"head":"down"},
      {"x":1440.7,"y":99.3,"head":"down"},
      {"x":1615.6,"y":66.7,"head":"left"}
    ],
    "leftNotes": [
      {"x":1023.2,"y":120.3,"label":"赋形剂峰"},
      {"x":1441.2,"y":114,"label":"API 峰"},
      {"x":1696.8,"y":66.7,"label":"API 峰"}
    ],
    "hplc": [
      {"seg":1,"x":0.615,"y":0},{"seg":1,"x":0.651,"y":0},{"seg":1,"x":0.661,"y":21},{"seg":1,"x":0.671,"y":170},{"seg":1,"x":0.679,"y":490},{"seg":1,"x":0.685,"y":767},{"seg":1,"x":0.691,"y":890},{"seg":1,"x":0.697,"y":767},{"seg":1,"x":0.703,"y":490},{"seg":1,"x":0.711,"y":170},{"seg":1,"x":0.721,"y":21},{"seg":1,"x":0.731,"y":0},{"seg":1,"x":1.05,"y":0},
      {"seg":2,"x":1.05,"y":0},{"seg":2,"x":1.367,"y":0},{"seg":2,"x":1.377,"y":18},{"seg":2,"x":1.387,"y":147},{"seg":2,"x":1.395,"y":423},{"seg":2,"x":1.401,"y":662},{"seg":2,"x":1.407,"y":768},{"seg":2,"x":1.413,"y":662},{"seg":2,"x":1.419,"y":423},{"seg":2,"x":1.427,"y":147},{"seg":2,"x":1.437,"y":18},{"seg":2,"x":1.447,"y":0},{"seg":2,"x":1.95,"y":0},
      {"seg":3,"x":1.95,"y":0},{"seg":3,"x":2.451,"y":0},{"seg":3,"x":2.461,"y":13},{"seg":3,"x":2.471,"y":102},{"seg":3,"x":2.479,"y":295},{"seg":3,"x":2.485,"y":462},{"seg":3,"x":2.491,"y":536},{"seg":3,"x":2.497,"y":462},{"seg":3,"x":2.503,"y":295},{"seg":3,"x":2.511,"y":102},{"seg":3,"x":2.521,"y":13},{"seg":3,"x":2.531,"y":0},{"seg":3,"x":2.92,"y":0},
      {"seg":4,"x":2.92,"y":0},{"seg":4,"x":3.308,"y":0},{"seg":4,"x":3.318,"y":25},{"seg":4,"x":3.328,"y":199},{"seg":4,"x":3.336,"y":575},{"seg":4,"x":3.342,"y":900},{"seg":4,"x":3.348,"y":1044},{"seg":4,"x":3.354,"y":900},{"seg":4,"x":3.36,"y":575},{"seg":4,"x":3.368,"y":199},{"seg":4,"x":3.378,"y":25},{"seg":4,"x":3.388,"y":0},{"seg":4,"x":3.51,"y":0},
      {"seg":5,"x":3.51,"y":0},{"seg":5,"x":3.638,"y":0},{"seg":5,"x":3.648,"y":13},{"seg":5,"x":3.658,"y":101},{"seg":5,"x":3.666,"y":293},{"seg":5,"x":3.672,"y":458},{"seg":5,"x":3.678,"y":531},{"seg":5,"x":3.684,"y":458},{"seg":5,"x":3.69,"y":293},{"seg":5,"x":3.698,"y":101},{"seg":5,"x":3.708,"y":13},{"seg":5,"x":3.718,"y":0},{"seg":5,"x":3.85,"y":0},
      {"seg":6,"x":3.85,"y":0},{"seg":6,"x":3.989,"y":0},{"seg":6,"x":3.999,"y":14},{"seg":6,"x":4.009,"y":108},{"seg":6,"x":4.017,"y":313},{"seg":6,"x":4.023,"y":490},{"seg":6,"x":4.029,"y":568},{"seg":6,"x":4.035,"y":490},{"seg":6,"x":4.041,"y":313},{"seg":6,"x":4.049,"y":108},{"seg":6,"x":4.059,"y":14},{"seg":6,"x":4.069,"y":0},{"seg":6,"x":4.32,"y":0},
      {"seg":7,"x":4.32,"y":0},{"seg":7,"x":4.565,"y":0},{"seg":7,"x":4.575,"y":10},{"seg":7,"x":4.585,"y":83},{"seg":7,"x":4.593,"y":240},{"seg":7,"x":4.599,"y":375},{"seg":7,"x":4.605,"y":435},{"seg":7,"x":4.611,"y":375},{"seg":7,"x":4.617,"y":240},{"seg":7,"x":4.625,"y":83},{"seg":7,"x":4.635,"y":10},{"seg":7,"x":4.645,"y":0},{"seg":7,"x":4.85,"y":0},
      {"seg":8,"x":4.85,"y":0},{"seg":8,"x":5.066,"y":0},{"seg":8,"x":5.076,"y":10},{"seg":8,"x":5.086,"y":80},{"seg":8,"x":5.094,"y":231},{"seg":8,"x":5.1,"y":362},{"seg":8,"x":5.106,"y":420},{"seg":8,"x":5.112,"y":362},{"seg":8,"x":5.118,"y":231},{"seg":8,"x":5.126,"y":80},{"seg":8,"x":5.136,"y":10},{"seg":8,"x":5.146,"y":0},{"seg":8,"x":5.33,"y":0},
      {"seg":9,"x":5.33,"y":0},{"seg":9,"x":5.511,"y":0},{"seg":9,"x":5.521,"y":9},{"seg":9,"x":5.531,"y":75},{"seg":9,"x":5.539,"y":216},{"seg":9,"x":5.545,"y":338},{"seg":9,"x":5.551,"y":392},{"seg":9,"x":5.557,"y":338},{"seg":9,"x":5.563,"y":216},{"seg":9,"x":5.571,"y":75},{"seg":9,"x":5.581,"y":9},{"seg":9,"x":5.591,"y":0},{"seg":9,"x":5.8,"y":0}
    ],
    "grayRules": [
      {"x":0.818,"y":944,"x2":0.818,"y2":1012},
      {"x":5.34,"y":-217,"x2":5.538,"y2":-217}
    ],
    "grayHeads": [
      {"x":0.818,"y":1012,"head":"up"},
      {"x":5.538,"y":-217,"head":"right"}
    ],
    "rightNotes": [
      {"x":0.7665,"y":1071,"label":"信号"},
      {"x":5.658,"y":-217,"label":"时间"}
    ]
  },
  "hconcat": [
    {
      "width": 511,
      "height": 345,
      "encoding": {
        "x": {"field": "x", "type": "quantitative", "scale": {"domain": [1000, 1808], "nice": false, "zero": false}, "axis": {"values": [1000, 1200, 1400, 1600, 1800], "format": "d", "labelFlush": false, "tickSize": 6, "labelPadding": 8, "title": "波数 (cm⁻¹)", "titlePadding": 12}},
        "y": {"field": "y", "type": "quantitative", "scale": {"domain": [0, 100], "nice": false, "zero": false}, "axis": {"values": [9.97, 20.6, 31.2, 41.9, 52.4, 64.1, 75.9, 88.4, 100], "labels": false, "tickSize": 5, "title": "拉曼 (a.u.)", "titlePadding": 9}}
      },
      "layer": [
        {"data": {"name": "raman"}, "mark": {"type": "line", "clip": true, "strokeWidth": 1.4, "interpolate": "monotone"}, "encoding": {"color": {"field": "s", "type": "nominal", "scale": {"domain": ["24%", "20%", "16%", "1%", "0.5%", "0.1%"], "range": ["#f0ae7a", "#78c3d0", "#a592c8", "#5a6bbd", "#ef5757", "#8eabd8"]}, "legend": null}}},
        {"data": {"name": "raman"}, "transform": [{"joinaggregate": [{"op": "max", "field": "x", "as": "xmax"}], "groupby": ["s"]}, {"filter": "datum.x === datum.xmax"}], "mark": {"type": "text", "align": "left", "baseline": "middle", "dx": 15, "fontSize": 12}, "encoding": {"text": {"field": "s"}}},
        {"data": {"name": "blueRules"}, "mark": {"type": "rule", "color": "#1a9de0", "strokeWidth": 2}, "encoding": {"x2": {"field": "x2"}, "y2": {"field": "y2"}}},
        {"data": {"name": "blueHeads"}, "mark": {"type": "point", "filled": true, "color": "#1a9de0", "opacity": 1, "size": 64}, "encoding": {"shape": {"field": "head", "type": "nominal", "scale": {"domain": ["down", "left", "up", "right"], "range": ["triangle-down", "triangle-left", "triangle-up", "triangle-right"]}, "legend": null}}},
        {"data": {"name": "leftNotes"}, "mark": {"type": "text", "align": "left", "baseline": "middle", "fontSize": 17}, "encoding": {"text": {"field": "label"}}}
      ]
    },
    {
      "width": 510,
      "height": 345,
      "encoding": {
        "x": {"field": "x", "type": "quantitative", "scale": {"domain": [0.613, 5.839], "nice": false, "zero": false}, "axis": {"values": [0.8, 1, 1.2, 1.4, 1.6, 1.8, 2, 2.2, 2.4, 2.6, 2.8, 3, 3.2, 3.4, 3.6, 3.8, 4, 4.2, 4.4, 4.6, 4.8, 5, 5.2, 5.4, 5.6, 5.8], "labelExpr": "abs(datum.value - 5.8) < 0.01 ? 'min' : (abs(datum.value - round(datum.value)) < 0.01 ? format(datum.value, 'd') : '')", "labelFlush": false, "labelOverlap": false, "tickSize": 5, "labelPadding": 9, "title": null}},
        "y": {"field": "y", "type": "quantitative", "scale": {"domain": [-52, 1104], "range": [345, 49], "nice": false, "zero": false}, "axis": {"values": [0, 50, 100, 150, 200, 250, 300, 350, 400, 450, 500, 550, 600, 650, 700, 750, 800, 850, 900, 950, 1000, 1050, 1100], "labelExpr": "datum.value % 200 === 0 ? format(datum.value, 'd') : ''", "labelOverlap": false, "tickSize": 6, "labelPadding": 16, "title": null}}
      },
      "layer": [
        {"data": {"name": "hplc"}, "mark": {"type": "line", "strokeWidth": 1.6, "stroke": {"gradient": "linear", "x1": 0, "y1": 0, "x2": 0, "y2": 1, "stops": [{"offset": 0, "color": "#2c2f8e"}, {"offset": 1, "color": "#a0a0d2"}]}}, "encoding": {"detail": {"field": "seg", "type": "nominal"}}},
        {"data": {"name": "grayRules"}, "mark": {"type": "rule", "color": "#9a9a9a", "strokeWidth": 1.5}, "encoding": {"x2": {"field": "x2"}, "y2": {"field": "y2"}}},
        {"data": {"name": "grayHeads"}, "mark": {"type": "point", "filled": true, "color": "#9a9a9a", "opacity": 1, "size": 36}, "encoding": {"shape": {"field": "head", "type": "nominal", "scale": {"domain": ["down", "left", "up", "right"], "range": ["triangle-down", "triangle-left", "triangle-up", "triangle-right"]}, "legend": null}}},
        {"data": {"name": "rightNotes"}, "mark": {"type": "text", "align": "left", "baseline": "middle", "fontSize": 16}, "encoding": {"text": {"field": "label"}}}
      ]
    }
  ]
}
